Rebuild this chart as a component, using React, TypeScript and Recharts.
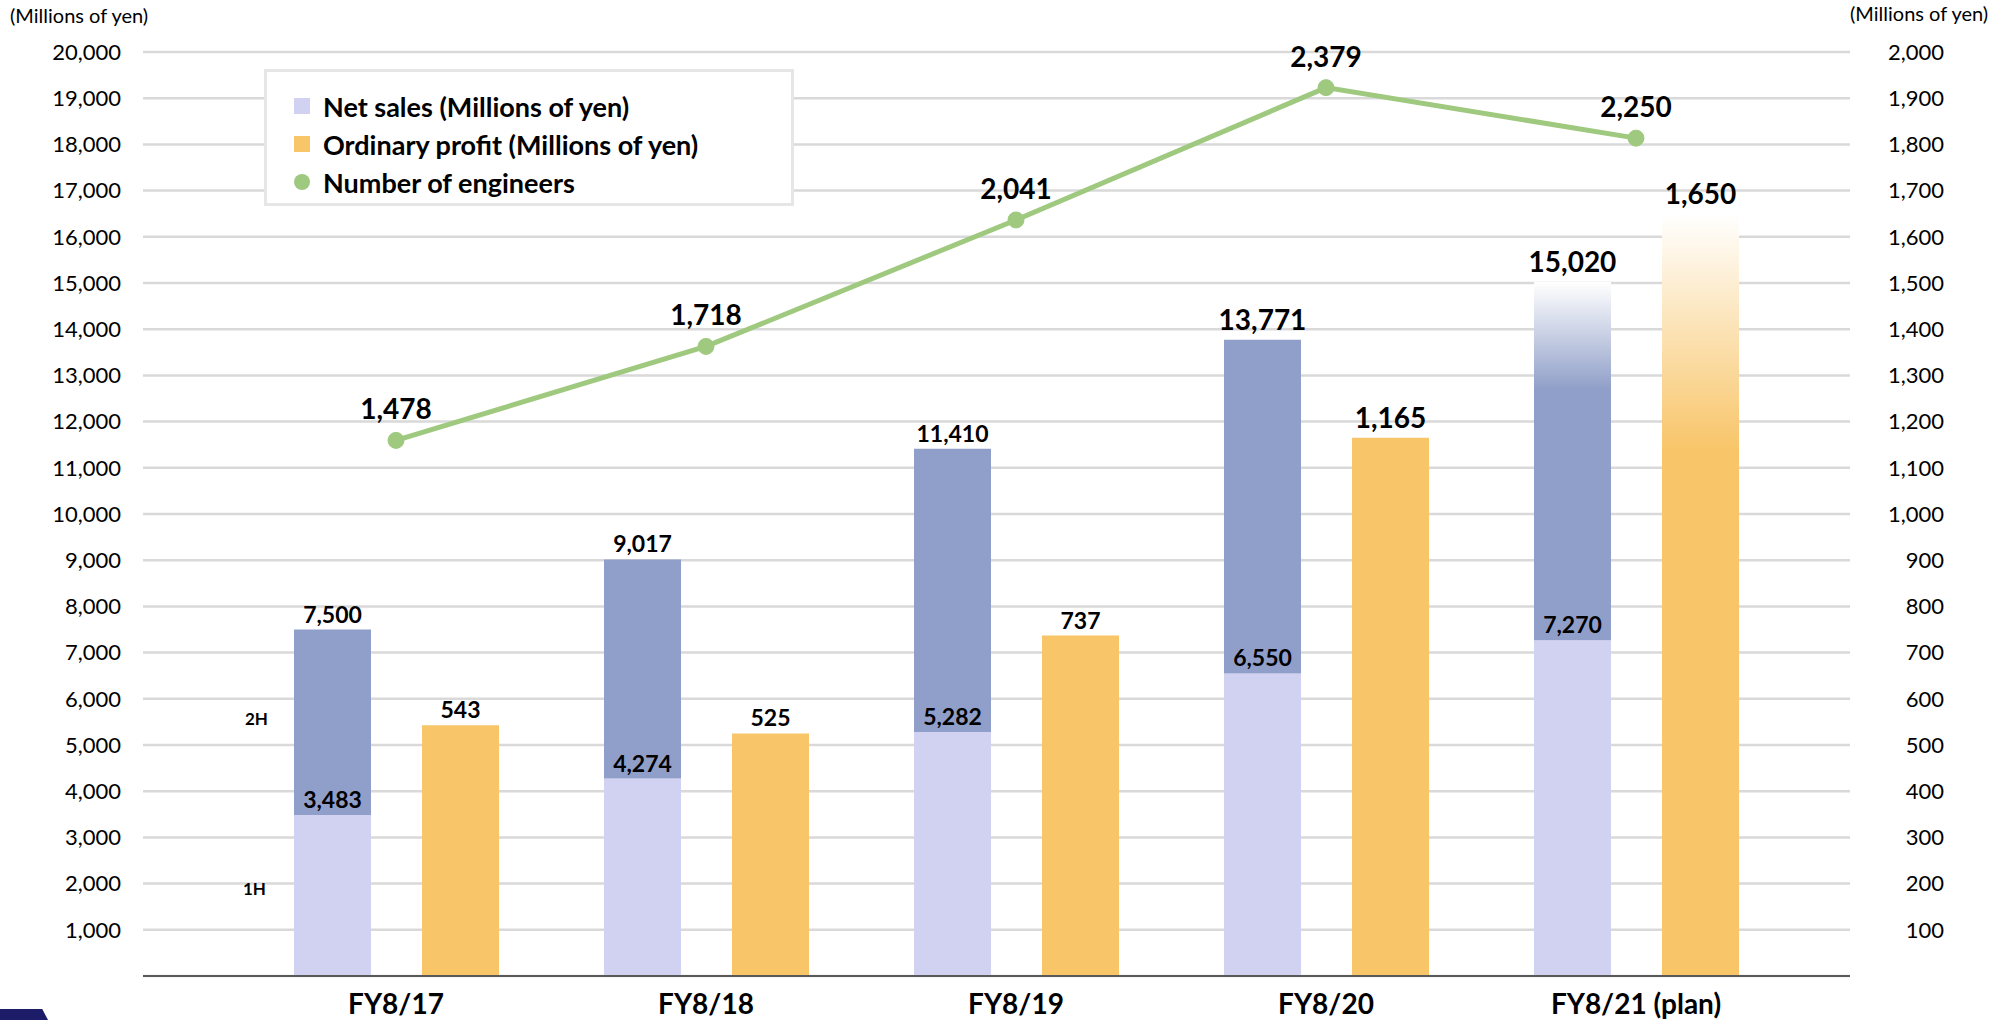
import React from "react";
import { ComposedChart, Bar, Line, XAxis, YAxis, CartesianGrid, Legend, LabelList, Cell } from "recharts";

if (typeof document !== "undefined") document.body.style.margin = "0";

const categories = ["FY8/17", "FY8/18", "FY8/19", "FY8/20", "FY8/21 (plan)"];
const netSales1H = [3483, 4274, 5282, 6550, 7270];
const netSalesTotal = [7500, 9017, 11410, 13771, 15020];
const ordinaryProfit = [543, 525, 737, 1165, 1650];
const engineers = [1478, 1718, 2041, 2379, 2250];
const leftTicks = [1000, 2000, 3000, 4000, 5000, 6000, 7000, 8000, 9000, 10000, 11000, 12000, 13000, 14000, 15000, 16000, 17000, 18000, 19000, 20000];
const rightTicks = [100, 200, 300, 400, 500, 600, 700, 800, 900, 1000, 1100, 1200, 1300, 1400, 1500, 1600, 1700, 1800, 1900, 2000];

const data = categories.map((name, i) => ({
    name,
    h1: netSales1H[i],
    h2: netSalesTotal[i] - netSales1H[i],
    total: netSalesTotal[i],
    profit: ordinaryProfit[i],
    engineers: engineers[i],
}));

const LAVENDER = "#d1d1f2";
const SLATE = "#909fc9";
const ORANGE = "#f8c569";
const GREEN = "#9fc97f";
const FONT = "Lato, 'Noto Sans', sans-serif";

const fmt = (v: number) => Number(v).toLocaleString("en-US");

// label drawn above a bar top / line point
const topLabel = (sizeAt: (i: number) => number, gapAt: (i: number) => number) => (props: any) => {
    const vb = props.viewBox ?? {};
    const x = props.x ?? vb.x;
    const y = props.y ?? vb.y;
    const w = props.width ?? vb.width ?? 0;
    if (x == null || y == null) return null;
    return (
        <text x={x + w / 2} y={y - gapAt(props.index)} textAnchor="middle" fontFamily={FONT} fontWeight={700} fontSize={sizeAt(props.index)} fill="#000">
            {fmt(props.value)}
        </text>
    );
};

const bigFromFourth = (i: number) => (i >= 3 ? 28 : 23);
const gapFromFourth = (i: number) => (i >= 3 ? 10 : 7);

function RightTick(props: any) {
    const { x, y, payload } = props;
    return (
        <text x={x + 86} y={y} dy="0.35em" textAnchor="end" fontFamily={FONT} fontSize={22} fill="#000">
            {fmt(payload.value)}
        </text>
    );
}

function ChartLegend() {
    const rows = [
        { label: "Net sales (Millions of yen)", color: LAVENDER, round: false },
        { label: "Ordinary profit (Millions of yen)", color: ORANGE, round: false },
        { label: "Number of engineers", color: GREEN, round: true },
    ];
    return (
        <div style={{ width: 530, height: 137, border: "3px solid #e6e6e6", background: "#fff", boxSizing: "border-box", padding: "15px 0 0 27px" }}>
            {rows.map((r) => (
                <div key={r.label} style={{ display: "flex", alignItems: "center", height: 38, fontFamily: FONT, fontWeight: 700, fontSize: 27, color: "#000" }}>
                    <span style={{ display: "inline-block", width: 16, height: 16, background: r.color, borderRadius: r.round ? 8 : 0, marginRight: 13 }} />
                    {r.label}
                </div>
            ))}
        </div>
    );
}

export default function App() {
    return (
        <div style={{ position: "relative", width: 2005, height: 1020, fontFamily: FONT, background: "#fff" }}>
            <ComposedChart width={2005} height={1020} data={data} margin={{ top: 52, right: 0, bottom: 0, left: 0 }} barSize={77} barGap={51}>
                <defs>
                    <linearGradient id="netFade" x1="0" y1="0" x2="0" y2="1">
                        <stop offset="0%" stopColor="#ffffff" />
                        <stop offset="30%" stopColor={SLATE} />
                        <stop offset="100%" stopColor={SLATE} />
                    </linearGradient>
                    <linearGradient id="profitFade" x1="0" y1="0" x2="0" y2="1">
                        <stop offset="0%" stopColor="#ffffff" />
                        <stop offset="31%" stopColor={ORANGE} />
                        <stop offset="100%" stopColor={ORANGE} />
                    </linearGradient>
                </defs>
                <CartesianGrid yAxisId="left" vertical={false} stroke="#d9d9d9" strokeWidth={2.5} />
                <XAxis
                    dataKey="name"
                    height={44}
                    padding={{ left: 98, right: 59 }}
                    axisLine={{ stroke: "#595959", strokeWidth: 2 }}
                    tickLine={false}
                    tickMargin={12}
                    interval={0}
                    tick={{ fill: "#000", fontSize: 28, fontWeight: 700, fontFamily: FONT }}
                />
                <YAxis
                    yAxisId="left"
                    width={143}
                    domain={[0, 20000]}
                    ticks={leftTicks}
                    axisLine={false}
                    tickLine={false}
                    tickMargin={16}
                    tickFormatter={fmt}
                    tick={{ fill: "#000", fontSize: 22, fontFamily: FONT }}
                />
                <YAxis
                    yAxisId="right"
                    orientation="right"
                    width={155}
                    domain={[0, 2000]}
                    ticks={rightTicks}
                    axisLine={false}
                    tickLine={false}
                    tick={<RightTick />}
                />
                <YAxis yAxisId="eng" hide width={0} domain={[110, 2470]} />
                <Legend
                    layout="vertical"
                    align="center"
                    verticalAlign="middle"
                    wrapperStyle={{ left: 264, top: 69, width: 530 }}
                    content={() => <ChartLegend />}
                />
                <Bar yAxisId="left" dataKey="h1" stackId="net" fill={LAVENDER} isAnimationActive={false}>
                    <LabelList dataKey="h1" content={topLabel(() => 23, () => 7)} />
                </Bar>
                <Bar yAxisId="left" dataKey="h2" stackId="net" fill={SLATE} isAnimationActive={false}>
                    {data.map((_, i) => (
                        <Cell key={`net-${i}`} fill={i === data.length - 1 ? "url(#netFade)" : SLATE} />
                    ))}
                    <LabelList dataKey="total" content={topLabel(bigFromFourth, gapFromFourth)} />
                </Bar>
                <Bar yAxisId="right" dataKey="profit" fill={ORANGE} isAnimationActive={false}>
                    {data.map((_, i) => (
                        <Cell key={`op-${i}`} fill={i === data.length - 1 ? "url(#profitFade)" : ORANGE} />
                    ))}
                    <LabelList dataKey="profit" content={topLabel(bigFromFourth, gapFromFourth)} />
                </Bar>
                <Line
                    yAxisId="eng"
                    dataKey="engineers"
                    stroke={GREEN}
                    strokeWidth={5}
                    dot={{ r: 8, fill: GREEN, stroke: GREEN, strokeWidth: 1 }}
                    isAnimationActive={false}
                >
                    <LabelList dataKey="engineers" content={topLabel(() => 28, () => 21)} />
                </Line>
            </ComposedChart>

            <div style={{ position: "absolute", left: 10, top: 3, fontSize: 20, color: "#000" }}>(Millions of yen)</div>
            <div style={{ position: "absolute", left: 1850, top: 1, fontSize: 20, color: "#000" }}>(Millions of yen)</div>
            <div style={{ position: "absolute", left: 245, top: 708, fontSize: 17, fontWeight: 700, color: "#000" }}>2H</div>
            <div style={{ position: "absolute", left: 243, top: 878, fontSize: 17, fontWeight: 700, color: "#000" }}>1H</div>
            <div style={{ position: "absolute", left: 0, top: 1009, width: 48, height: 11, background: "#1c1c68", clipPath: "polygon(0 0, 88% 0, 100% 100%, 0 100%)" }} />
        </div>
    );
}
